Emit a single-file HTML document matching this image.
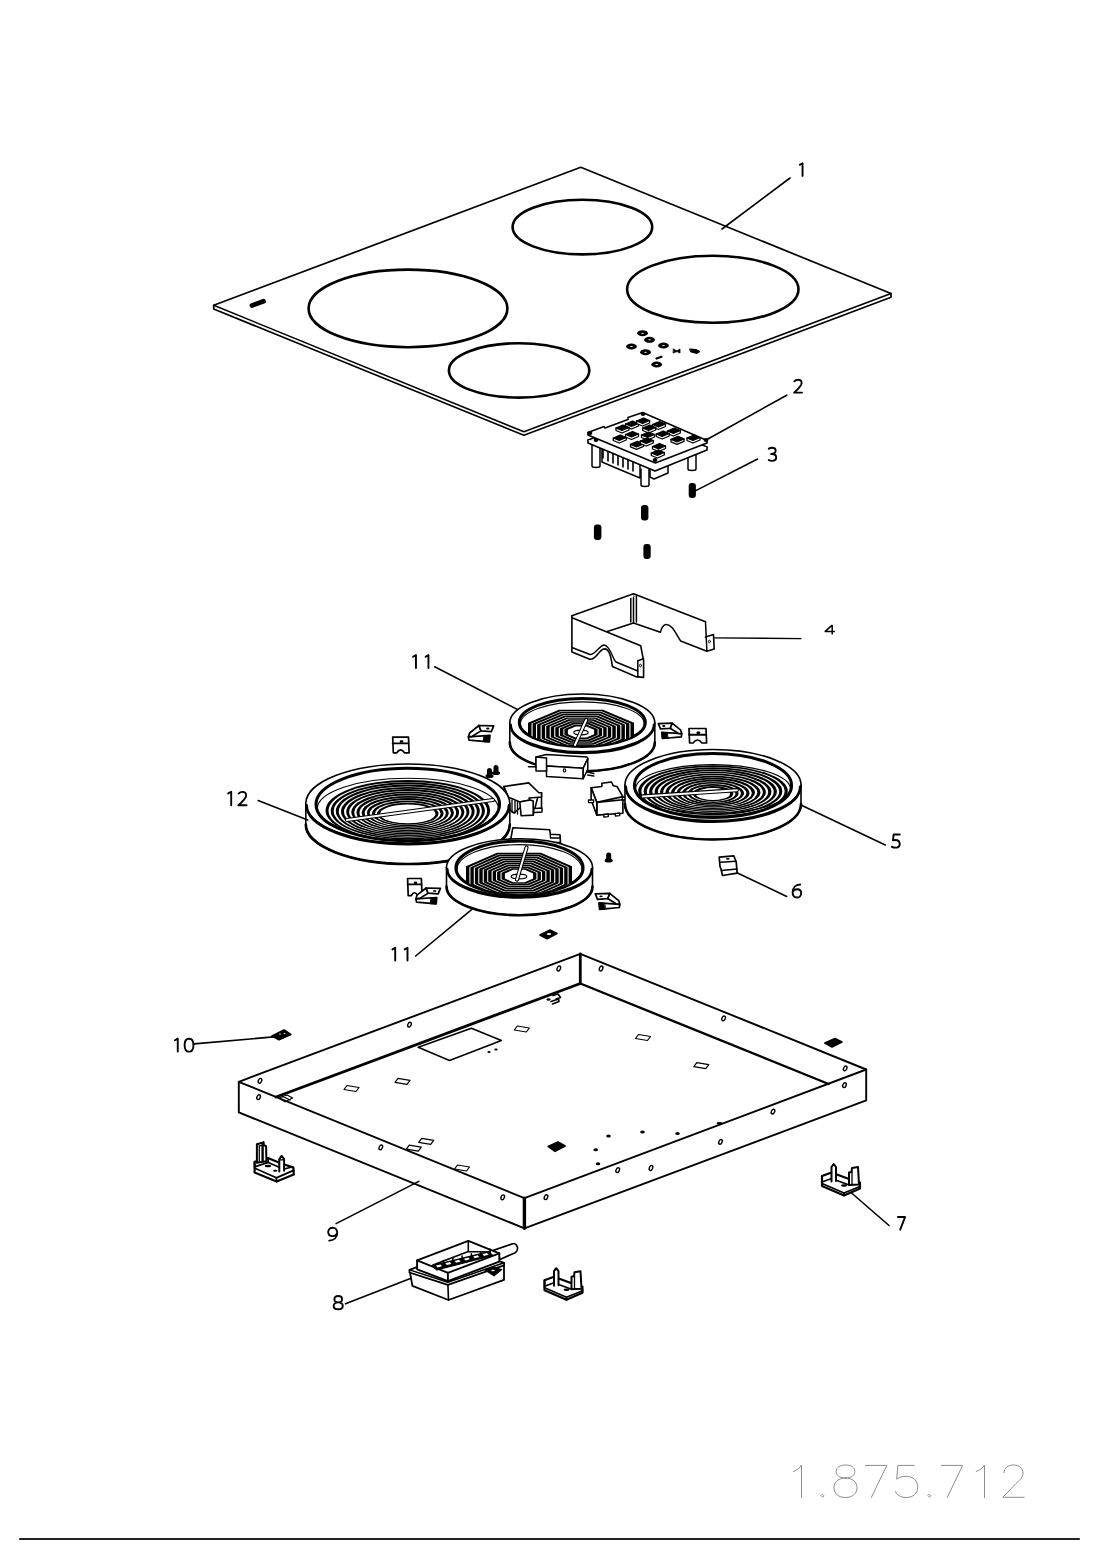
<!DOCTYPE html>
<html><head><meta charset="utf-8"><style>
html,body{margin:0;padding:0;background:#fff;}
svg{display:block;}
text{font-family:"Liberation Sans",sans-serif;}
</style></head><body>
<svg width="1100" height="1556" viewBox="0 0 1100 1556" stroke-linejoin="round" stroke-linecap="round">
<path d="M213.7 305.3 L580.8 167.3 L891 293.5 L891 297.3 L523.9 435.3 L213.7 309 Z" fill="none" stroke="#000" stroke-width="1.7" />
<path d="M213.7 305.3 L523.9 431.8 L891 293.5" fill="none" stroke="#000" stroke-width="1.5" />
<ellipse cx="582.4" cy="227.1" rx="69.8" ry="27.3" fill="none" stroke="#000" stroke-width="2.6" />
<ellipse cx="712.8" cy="289.3" rx="85.7" ry="33.5" fill="none" stroke="#000" stroke-width="2.6" />
<ellipse cx="408" cy="308.4" rx="99.4" ry="38.8" fill="none" stroke="#000" stroke-width="2.6" />
<ellipse cx="519.1" cy="370.4" rx="70.2" ry="27.2" fill="none" stroke="#000" stroke-width="2.6" />
<path d="M252 305.5 L263.5 301.3" fill="none" stroke="#000" stroke-width="4.8" stroke-linecap="round"/>
<ellipse cx="642.5" cy="333.2" rx="5.4" ry="3" fill="#000" stroke="#000" stroke-width="0" />
<ellipse cx="642.5" cy="333.2" rx="1.3" ry="0.5" fill="#fff" stroke="#000" stroke-width="0" />
<ellipse cx="649.5" cy="339.8" rx="5.4" ry="3" fill="#000" stroke="#000" stroke-width="0" />
<ellipse cx="649.5" cy="339.8" rx="1.3" ry="0.5" fill="#fff" stroke="#000" stroke-width="0" />
<ellipse cx="631.5" cy="346.5" rx="5.4" ry="3" fill="#000" stroke="#000" stroke-width="0" />
<ellipse cx="631.5" cy="346.5" rx="1.3" ry="0.5" fill="#fff" stroke="#000" stroke-width="0" />
<ellipse cx="663.5" cy="345.5" rx="5.4" ry="3" fill="#000" stroke="#000" stroke-width="0" />
<ellipse cx="663.5" cy="345.5" rx="1.3" ry="0.5" fill="#fff" stroke="#000" stroke-width="0" />
<ellipse cx="645.5" cy="352.2" rx="5.4" ry="3" fill="#000" stroke="#000" stroke-width="0" />
<ellipse cx="645.5" cy="352.2" rx="1.3" ry="0.5" fill="#fff" stroke="#000" stroke-width="0" />
<ellipse cx="656.7" cy="364.5" rx="5.4" ry="3" fill="#000" stroke="#000" stroke-width="0" />
<ellipse cx="656.7" cy="364.5" rx="1.3" ry="0.5" fill="#fff" stroke="#000" stroke-width="0" />
<line x1="656.5" y1="358.5" x2="661.5" y2="356.8" stroke="#000" stroke-width="2.2"/>
<path d="M673.5 349 L676 350.5 L677.5 350.5 L680 349 L680 353 L677.5 351.8 L676 351.8 L673.5 353 Z" fill="#000" stroke="#000" stroke-width="0.8" />
<path d="M690 349 L696 349.5 L700 351.5 L697 353.5 L691 352 Z" fill="#000" stroke="#000" stroke-width="1" />
<path d="M602 447 L640 462 L640 478 L616 468 L602 462 Z" fill="#fff" stroke="#000" stroke-width="1.5" />
<path d="M603 450 L603 458 M608 452 L608 461 M613 454 L613 463 M618 456 L618 465 M623 458 L623 467 M628 460 L628 469 M633 462 L633 471" fill="none" stroke="#000" stroke-width="1.6" />
<path d="M650 467 L668 461 L668 473 L654 479 L650 477 Z" fill="#fff" stroke="#000" stroke-width="1.5" />
<path d="M592 445 L592 466 A4 1.5 0 0 0 600 466 L600 445" fill="#fff" stroke="#000" stroke-width="1.5" />
<path d="M688 452 L688 469 A4 1.5 0 0 0 696 469 L696 452" fill="#fff" stroke="#000" stroke-width="1.5" />
<path d="M588 440 L643 420 L707 447 L655 468 Z" fill="#fff" stroke="#000" stroke-width="1.6" />
<path d="M588 440 L588 443 L655 471 L707 450 L707 447" fill="#fff" stroke="#000" stroke-width="1.6" />
<path d="M588 432.6 L604 426.6 L605 428 L628 419.5 L628 417.5 L642.6 412.6 L707 440.6 L655.4 460.2 Z" fill="#fff" stroke="#000" stroke-width="1.6" />
<path d="M588 432.6 L588 435 L655.4 463 L707 443 L707 440.6" fill="#fff" stroke="#000" stroke-width="1.6" />
<path d="M625.5 424 L625.5 426.5 L631.5 429 L638.5 426 L638.5 423.5" fill="#fff" stroke="#000" stroke-width="1.3" />
<path d="M625.5 424 L632.5 421 L638.5 423.5 L631.5 426.5 Z" fill="#000" stroke="#000" stroke-width="1.3" />
<path d="M636.6 421 L636.6 423.5 L642.6 426 L649.6 423 L649.6 420.5" fill="#fff" stroke="#000" stroke-width="1.3" />
<path d="M636.6 421 L643.6 418 L649.6 420.5 L642.6 423.5 Z" fill="#000" stroke="#000" stroke-width="1.3" />
<path d="M652.5 424.5 L652.5 427.0 L658.5 429.5 L665.5 426.5 L665.5 424.0" fill="#fff" stroke="#000" stroke-width="1.3" />
<path d="M652.5 424.5 L659.5 421.5 L665.5 424 L658.5 427 Z" fill="#000" stroke="#000" stroke-width="1.3" />
<path d="M616 428 L616 430.5 L622 433 L629 430 L629 427.5" fill="#fff" stroke="#000" stroke-width="1.3" />
<path d="M616 428 L623 425 L629 427.5 L622 430.5 Z" fill="#000" stroke="#000" stroke-width="1.3" />
<path d="M642.7 428 L642.7 430.5 L648.7 433 L655.7 430 L655.7 427.5" fill="#fff" stroke="#000" stroke-width="1.3" />
<path d="M642.7 428 L649.7 425 L655.7 427.5 L648.7 430.5 Z" fill="#000" stroke="#000" stroke-width="1.3" />
<path d="M667.3 431 L667.3 433.5 L673.3 436 L680.3 433 L680.3 430.5" fill="#fff" stroke="#000" stroke-width="1.3" />
<path d="M667.3 431 L674.3 428 L680.3 430.5 L673.3 433.5 Z" fill="#000" stroke="#000" stroke-width="1.3" />
<path d="M613.3 438 L613.3 440.5 L619.3 443 L626.3 440 L626.3 437.5" fill="#fff" stroke="#000" stroke-width="1.3" />
<path d="M613.3 438 L620.3 435 L626.3 437.5 L619.3 440.5 Z" fill="#000" stroke="#000" stroke-width="1.3" />
<path d="M625.5 434.5 L625.5 437.0 L631.5 439.5 L638.5 436.5 L638.5 434.0" fill="#fff" stroke="#000" stroke-width="1.3" />
<path d="M625.5 434.5 L632.5 431.5 L638.5 434 L631.5 437 Z" fill="#000" stroke="#000" stroke-width="1.3" />
<path d="M641.5 435 L641.5 437.5 L647.5 440 L654.5 437 L654.5 434.5" fill="#fff" stroke="#000" stroke-width="1.3" />
<path d="M641.5 435 L648.5 432 L654.5 434.5 L647.5 437.5 Z" fill="#000" stroke="#000" stroke-width="1.3" />
<path d="M656.2 434 L656.2 436.5 L662.2 439 L669.2 436 L669.2 433.5" fill="#fff" stroke="#000" stroke-width="1.3" />
<path d="M656.2 434 L663.2 431 L669.2 433.5 L662.2 436.5 Z" fill="#000" stroke="#000" stroke-width="1.3" />
<path d="M671 439.4 L671 441.9 L677 444.4 L684 441.4 L684 438.9" fill="#fff" stroke="#000" stroke-width="1.3" />
<path d="M671 439.4 L678 436.4 L684 438.9 L677 441.9 Z" fill="#000" stroke="#000" stroke-width="1.3" />
<path d="M630.5 444.3 L630.5 446.8 L636.5 449.3 L643.5 446.3 L643.5 443.8" fill="#fff" stroke="#000" stroke-width="1.3" />
<path d="M630.5 444.3 L637.5 441.3 L643.5 443.8 L636.5 446.8 Z" fill="#000" stroke="#000" stroke-width="1.3" />
<path d="M640.3 441 L640.3 443.5 L646.3 446 L653.3 443 L653.3 440.5" fill="#fff" stroke="#000" stroke-width="1.3" />
<path d="M640.3 441 L647.3 438 L653.3 440.5 L646.3 443.5 Z" fill="#000" stroke="#000" stroke-width="1.3" />
<path d="M652.5 446.5 L652.5 449.0 L658.5 451.5 L665.5 448.5 L665.5 446.0" fill="#fff" stroke="#000" stroke-width="1.3" />
<path d="M652.5 446.5 L659.5 443.5 L665.5 446 L658.5 449 Z" fill="#000" stroke="#000" stroke-width="1.3" />
<path d="M651.3 453 L651.3 455.5 L657.3 458 L664.3 455 L664.3 452.5" fill="#fff" stroke="#000" stroke-width="1.3" />
<path d="M651.3 453 L658.3 450 L664.3 452.5 L657.3 455.5 Z" fill="#000" stroke="#000" stroke-width="1.3" />
<path d="M687 438 L687 440.5 L693 443 L700 440 L700 437.5" fill="#fff" stroke="#000" stroke-width="1.3" />
<path d="M687 438 L694 435 L700 437.5 L693 440.5 Z" fill="#000" stroke="#000" stroke-width="1.3" />
<ellipse cx="590" cy="433" rx="1.8" ry="1.3" fill="#000" stroke="#000" stroke-width="1.2" />
<ellipse cx="643" cy="414" rx="1.8" ry="1.3" fill="#000" stroke="#000" stroke-width="1.2" />
<ellipse cx="706" cy="440" rx="1.8" ry="1.3" fill="#000" stroke="#000" stroke-width="1.2" />
<ellipse cx="655" cy="460" rx="1.8" ry="1.3" fill="#000" stroke="#000" stroke-width="1.2" />
<ellipse cx="596" cy="440" rx="1.8" ry="1.3" fill="#000" stroke="#000" stroke-width="1.2" />
<path d="M641 469 L641 485 A4 1.5 0 0 0 649 485 L649 469" fill="#fff" stroke="#000" stroke-width="1.5" />
<rect x="688.7" y="483" width="7.2" height="15" rx="3" ry="3" fill="#000"/>
<rect x="641" y="505" width="7.4" height="15.5" rx="3" ry="3" fill="#000"/>
<rect x="593.9" y="524.5" width="7.5" height="15.5" rx="3" ry="3" fill="#000"/>
<rect x="643.4" y="544" width="7.3" height="15" rx="3" ry="3" fill="#000"/>
<path d="M633.5 593.7 L705.5 621.7 L706.9 651.2 L680.7 641 C676 634 672 624 666 624.5 C662 625 661 630 660.4 632.3 L633.5 623 Z" fill="#fff" stroke="#000" stroke-width="1.5" />
<path d="M705.5 637 L713.5 634.5 L714.2 649 L706.9 651.2" fill="none" stroke="#000" stroke-width="1.6" />
<ellipse cx="709.5" cy="641.5" rx="1" ry="1.3" fill="none" stroke="#000" stroke-width="1" />
<path d="M630.8 595.2 L630.8 622 M636.4 596 L636.4 622" fill="none" stroke="#000" stroke-width="1.5" />
<path d="M633.5 623 L606.5 631.8" fill="none" stroke="#000" stroke-width="1.6" />
<path d="M571.9 615.8 L633.5 593.7 L633.5 597 L572 618 Z" fill="#fff" stroke="#000" stroke-width="0" />
<path d="M571.9 615.8 L633.5 593.7" fill="none" stroke="#000" stroke-width="1.6" />
<path d="M571.9 615.8 L571.9 647.5 L571.9 652 L589.8 659.2 C596 660 598 651 603.6 649 C609 648 611 656 612.4 666.5 L635.6 676.6 L643.6 677.4 L643.6 660.6 L640.7 645.8 L572 617.7" fill="#fff" stroke="#000" stroke-width="1.6" />
<path d="M571.9 647.5 L590 654.5 C595 655 599 646 604 645 C610 645 613 660 616 662 L637.8 671" fill="none" stroke="#000" stroke-width="1.4" />
<path d="M637.8 660.6 L637.8 677 M637.8 661 L643.6 658.5" fill="none" stroke="#000" stroke-width="1.5" />
<ellipse cx="640.5" cy="665.5" rx="1" ry="1.3" fill="none" stroke="#000" stroke-width="1" />
<path d="M509.8 722.9 L509.8 742.4 A72.5 28.9 0 0 0 654.8 742.4 L654.8 722.9 Z" fill="#fff" stroke="#000" stroke-width="1.6" />
<path d="M509.8 742.4 A72.5 28.9 0 0 0 654.8 742.4" fill="none" stroke="#000" stroke-width="2.6" />
<ellipse cx="582.3" cy="722.9" rx="72.5" ry="28.9" fill="#fff" stroke="#000" stroke-width="1.6" />
<path d="M510.6 724.7 A71.7 28.3 0 0 0 654 724.7" fill="none" stroke="#000" stroke-width="2.6" />
<ellipse cx="582.3" cy="722.4" rx="63" ry="24" fill="none" stroke="#000" stroke-width="3" />
<clipPath id="cl1"><ellipse cx="582.3" cy="723.9" rx="61.8" ry="22"/></clipPath>
<g clip-path="url(#cl1)">
<path d="M634 741.2 L603 754.3 L559 754.3 L528 741.2 L528 722.8 L559 709.7 L603 709.7 L634 722.8 Z" fill="#000" stroke="none" stroke-width="0" />
<path d="M630.5 740.6 L601.5 752.8 L560.5 752.8 L531.5 740.6 L531.5 723.4 L560.5 711.2 L601.5 711.2 L630.5 723.4 Z" fill="#fff" stroke="none" stroke-width="0" />
<path d="M629.4 740.4 L601.1 752.3 L560.9 752.3 L532.6 740.4 L532.6 723.6 L560.9 711.7 L601.1 711.7 L629.4 723.6 Z" fill="#000" stroke="none" stroke-width="0" />
<path d="M626 739.8 L599.6 750.9 L562.4 750.9 L536 739.8 L536 724.2 L562.4 713.1 L599.6 713.1 L626 724.2 Z" fill="#fff" stroke="none" stroke-width="0" />
<path d="M624.9 739.6 L599.2 750.4 L562.8 750.4 L537.1 739.6 L537.1 724.4 L562.8 713.6 L599.2 713.6 L624.9 724.4 Z" fill="#000" stroke="none" stroke-width="0" />
<path d="M621.4 739 L597.7 749 L564.3 749 L540.6 739 L540.6 725 L564.3 715 L597.7 715 L621.4 725 Z" fill="#fff" stroke="none" stroke-width="0" />
<path d="M620.3 738.8 L597.3 748.5 L564.7 748.5 L541.7 738.8 L541.7 725.2 L564.7 715.5 L597.3 715.5 L620.3 725.2 Z" fill="#000" stroke="none" stroke-width="0" />
<path d="M616.9 738.2 L595.9 747.1 L566.1 747.1 L545.1 738.2 L545.1 725.8 L566.1 716.9 L595.9 716.9 L616.9 725.8 Z" fill="#fff" stroke="none" stroke-width="0" />
<path d="M615.8 738.1 L595.4 746.6 L566.6 746.6 L546.2 738.1 L546.2 725.9 L566.6 717.4 L595.4 717.4 L615.8 725.9 Z" fill="#000" stroke="none" stroke-width="0" />
<path d="M612.3 737.4 L594 745.2 L568 745.2 L549.7 737.4 L549.7 726.6 L568 718.8 L594 718.8 L612.3 726.6 Z" fill="#fff" stroke="none" stroke-width="0" />
<path d="M611.2 737.3 L593.5 744.7 L568.5 744.7 L550.8 737.3 L550.8 726.7 L568.5 719.3 L593.5 719.3 L611.2 726.7 Z" fill="#000" stroke="none" stroke-width="0" />
<path d="M607.8 736.7 L592.1 743.2 L569.9 743.2 L554.2 736.7 L554.2 727.3 L569.9 720.8 L592.1 720.8 L607.8 727.3 Z" fill="#fff" stroke="none" stroke-width="0" />
<path d="M606.7 736.5 L591.6 742.8 L570.4 742.8 L555.3 736.5 L555.3 727.5 L570.4 721.2 L591.6 721.2 L606.7 727.5 Z" fill="#000" stroke="none" stroke-width="0" />
<path d="M603.2 735.9 L590.2 741.3 L571.8 741.3 L558.8 735.9 L558.8 728.1 L571.8 722.7 L590.2 722.7 L603.2 728.1 Z" fill="#fff" stroke="none" stroke-width="0" />
<path d="M602.1 735.7 L589.7 740.9 L572.3 740.9 L559.9 735.7 L559.9 728.3 L572.3 723.1 L589.7 723.1 L602.1 728.3 Z" fill="#000" stroke="none" stroke-width="0" />
<path d="M598.6 735.1 L588.3 739.4 L573.7 739.4 L563.4 735.1 L563.4 728.9 L573.7 724.6 L588.3 724.6 L598.6 728.9 Z" fill="#fff" stroke="none" stroke-width="0" />
<path d="M597.6 734.9 L587.9 739 L574.1 739 L564.4 734.9 L564.4 729.1 L574.1 725 L587.9 725 L597.6 729.1 Z" fill="#000" stroke="none" stroke-width="0" />
<path d="M594.1 734.3 L586.4 737.5 L575.6 737.5 L567.9 734.3 L567.9 729.7 L575.6 726.5 L586.4 726.5 L594.1 729.7 Z" fill="#fff" stroke="none" stroke-width="0" />
</g>
<ellipse cx="581" cy="732" rx="12" ry="3.8" fill="#fff" stroke="#000" stroke-width="0" />
<ellipse cx="581" cy="732.5" rx="7.2" ry="2.3" fill="none" stroke="#000" stroke-width="1.2" />
<ellipse cx="582.3" cy="723.9" rx="61.8" ry="22" fill="none" stroke="#000" stroke-width="1.1" />
<line x1="586.2" y1="720" x2="575" y2="745" stroke="#000" stroke-width="4.2"/>
<line x1="586.2" y1="720" x2="575" y2="745" stroke="#fff" stroke-width="2.0"/>
<path d="M536 757 L546.5 754.5 L587 757 L587.8 758.5 L583.2 768.2 L546.5 766 L536 767 Z" fill="#fff" stroke="#000" stroke-width="1.5" />
<path d="M546.5 766 L583.2 768.2 L583.2 778.8 L546.5 776.5 Z" fill="#fff" stroke="#000" stroke-width="1.5" />
<path d="M583.2 768.2 L587.8 758.5 L587.8 769 L583.2 778.8 Z" fill="#fff" stroke="#000" stroke-width="1.5" />
<path d="M536 757 L546.5 758 L546.5 771 L536 771 Z" fill="#fff" stroke="#000" stroke-width="1.5" />
<path d="M528.5 766.8 L536 766.8 M587.75 772 L593.75 773.5 M587.75 775 L593.75 776" fill="none" stroke="#000" stroke-width="1.6" />
<ellipse cx="564.5" cy="770.5" rx="1.2" ry="1.6" fill="none" stroke="#000" stroke-width="1.1" />
<path d="M538.9 792.8 L541.5 792.8 L541.5 811 L534 812 L533.2 815 Z" fill="#fff" stroke="#000" stroke-width="1.6" />
<path d="M534.5 808.5 L542 808 L542 812 L534.5 812.5" fill="#fff" stroke="#000" stroke-width="1.4" />
<path d="M503.9 786.5 L528.7 782.9 L538.9 792.8 L541.5 792.8 L541.5 797 L529 798 L530 800 L519.8 802 L508 797 Z" fill="#fff" stroke="#000" stroke-width="1.6" />
<path d="M519.8 802 L530 800 L533.2 801 L533.2 815.1 L521.1 815.7 Z" fill="#fff" stroke="#000" stroke-width="1.6" />
<path d="M503.9 786.5 L508 797 L510 810 L514 813 L519.8 808" fill="none" stroke="#000" stroke-width="1.6" />
<path d="M512 800 L512 812 M515 801 L515 813 M517.5 801.5 L517.5 814" fill="none" stroke="#000" stroke-width="1.3" />
<path d="M591.1 787.7 L601.9 786.5 L601.9 783.3 L611.5 782 L613.4 785.8 L617 786.5 L622.9 796.6 L596.8 802.4 Z" fill="#fff" stroke="#000" stroke-width="1.6" />
<path d="M596.8 802.4 L622.9 799.8 L622.9 813.2 L596.8 815.1 Z" fill="#fff" stroke="#000" stroke-width="1.6" />
<path d="M591.1 787.7 L596.8 802.4 L596.8 815.1 L591.1 799.8 Z" fill="#fff" stroke="#000" stroke-width="1.6" />
<path d="M622.9 796.6 L622.9 799.8" fill="none" stroke="#000" stroke-width="1.6" />
<path d="M588.5 800 L593.6 800 L593.6 802.6 L588.5 802.6 Z" fill="#fff" stroke="#000" stroke-width="1.3" />
<path d="M622.3 797.3 L626.1 797.3 L626.1 799.8 L622.3 799.8 Z" fill="#fff" stroke="#000" stroke-width="1.3" />
<path d="M603.8 814.5 L608.3 814 L608.3 816.6 L603.8 817 Z" fill="#fff" stroke="#000" stroke-width="1.3" />
<path d="M615.3 813.5 L619.7 813.2 L619.7 815.6 L615.3 816 Z" fill="#fff" stroke="#000" stroke-width="1.3" />
<path d="M512.8 827.8 L549.7 829.7 L550.4 834.2 L560 834.8 L560.5 842.5 L510.3 842 Z" fill="#fff" stroke="#000" stroke-width="1.6" />
<path d="M550.4 834.2 L550.4 838 L560 838" fill="none" stroke="#000" stroke-width="1.3" />
<path d="M305.8 803.5 L305.8 824.5 A102 39.5 0 0 0 509.8 824.5 L509.8 803.5 Z" fill="#fff" stroke="#000" stroke-width="1.6" />
<path d="M305.8 824.5 A102 39.5 0 0 0 509.8 824.5" fill="none" stroke="#000" stroke-width="2.6" />
<ellipse cx="407.8" cy="803.5" rx="102" ry="39.5" fill="#fff" stroke="#000" stroke-width="1.6" />
<path d="M306.6 805.3 A101.2 38.9 0 0 0 509 805.3" fill="none" stroke="#000" stroke-width="2.6" />
<ellipse cx="407.8" cy="804.4" rx="91.8" ry="36.2" fill="none" stroke="#000" stroke-width="3" />
<ellipse cx="407.8" cy="810.5" rx="82.3" ry="30.5" fill="#000" stroke="none" stroke-width="0" />
<ellipse cx="407.8" cy="810.8" rx="79.3" ry="28.9" fill="#fff" stroke="none" stroke-width="0" />
<ellipse cx="407.8" cy="810.8" rx="77.1" ry="28.5" fill="#000" stroke="none" stroke-width="0" />
<ellipse cx="407.8" cy="811.1" rx="74.1" ry="26.9" fill="#fff" stroke="none" stroke-width="0" />
<ellipse cx="407.8" cy="811.1" rx="72" ry="26.6" fill="#000" stroke="none" stroke-width="0" />
<ellipse cx="407.8" cy="811.4" rx="69" ry="25" fill="#fff" stroke="none" stroke-width="0" />
<ellipse cx="407.8" cy="811.5" rx="66.8" ry="24.6" fill="#000" stroke="none" stroke-width="0" />
<ellipse cx="407.8" cy="811.7" rx="63.8" ry="23" fill="#fff" stroke="none" stroke-width="0" />
<ellipse cx="407.8" cy="811.8" rx="61.6" ry="22.7" fill="#000" stroke="none" stroke-width="0" />
<ellipse cx="407.8" cy="812" rx="58.7" ry="21.1" fill="#fff" stroke="none" stroke-width="0" />
<ellipse cx="407.8" cy="812.1" rx="56.5" ry="20.7" fill="#000" stroke="none" stroke-width="0" />
<ellipse cx="407.8" cy="812.4" rx="53.5" ry="19.1" fill="#fff" stroke="none" stroke-width="0" />
<ellipse cx="407.8" cy="812.4" rx="51.3" ry="18.8" fill="#000" stroke="none" stroke-width="0" />
<ellipse cx="407.8" cy="812.7" rx="48.3" ry="17.2" fill="#fff" stroke="none" stroke-width="0" />
<ellipse cx="407.8" cy="812.7" rx="46.2" ry="16.8" fill="#000" stroke="none" stroke-width="0" />
<ellipse cx="407.8" cy="813" rx="43.2" ry="15.2" fill="#fff" stroke="none" stroke-width="0" />
<ellipse cx="407.8" cy="813" rx="41" ry="14.9" fill="#000" stroke="none" stroke-width="0" />
<ellipse cx="407.8" cy="813.3" rx="38" ry="13.3" fill="#fff" stroke="none" stroke-width="0" />
<ellipse cx="407.8" cy="813.4" rx="35.8" ry="12.9" fill="#000" stroke="none" stroke-width="0" />
<ellipse cx="407.8" cy="813.6" rx="32.8" ry="11.3" fill="#fff" stroke="none" stroke-width="0" />
<ellipse cx="407.8" cy="813.7" rx="30.7" ry="11" fill="#000" stroke="none" stroke-width="0" />
<ellipse cx="407.8" cy="813.9" rx="27.7" ry="9.4" fill="#fff" stroke="none" stroke-width="0" />
<ellipse cx="407.8" cy="814" rx="25.5" ry="9" fill="#fff" stroke="#000" stroke-width="0" />
<ellipse cx="407.8" cy="809" rx="90.6" ry="30.7" fill="none" stroke="#000" stroke-width="1.1" />
<line x1="347" y1="820" x2="493" y2="800" stroke="#000" stroke-width="4.2"/>
<line x1="347" y1="820" x2="493" y2="800" stroke="#fff" stroke-width="2.0"/>
<path d="M625 785 L625 804 A88 35.5 0 0 0 801 804 L801 785 Z" fill="#fff" stroke="#000" stroke-width="1.6" />
<path d="M625 804 A88 35.5 0 0 0 801 804" fill="none" stroke="#000" stroke-width="2.6" />
<ellipse cx="713" cy="785" rx="88" ry="35.5" fill="#fff" stroke="#000" stroke-width="1.6" />
<path d="M625.8 786.8 A87.2 34.9 0 0 0 800.2 786.8" fill="none" stroke="#000" stroke-width="2.6" />
<ellipse cx="713" cy="785.5" rx="78.6" ry="32" fill="none" stroke="#000" stroke-width="3" />
<ellipse cx="713" cy="791" rx="74.8" ry="25.8" fill="#000" stroke="none" stroke-width="0" />
<ellipse cx="713" cy="791.2" rx="71.6" ry="24.3" fill="#fff" stroke="none" stroke-width="0" />
<ellipse cx="713" cy="791.3" rx="69.3" ry="24" fill="#000" stroke="none" stroke-width="0" />
<ellipse cx="713" cy="791.5" rx="66.2" ry="22.5" fill="#fff" stroke="none" stroke-width="0" />
<ellipse cx="713" cy="791.5" rx="63.9" ry="22.2" fill="#000" stroke="none" stroke-width="0" />
<ellipse cx="713" cy="791.8" rx="60.7" ry="20.7" fill="#fff" stroke="none" stroke-width="0" />
<ellipse cx="713" cy="791.8" rx="58.4" ry="20.3" fill="#000" stroke="none" stroke-width="0" />
<ellipse cx="713" cy="792" rx="55.2" ry="18.9" fill="#fff" stroke="none" stroke-width="0" />
<ellipse cx="713" cy="792.1" rx="52.9" ry="18.5" fill="#000" stroke="none" stroke-width="0" />
<ellipse cx="713" cy="792.3" rx="49.8" ry="17" fill="#fff" stroke="none" stroke-width="0" />
<ellipse cx="713" cy="792.4" rx="47.5" ry="16.7" fill="#000" stroke="none" stroke-width="0" />
<ellipse cx="713" cy="792.6" rx="44.3" ry="15.2" fill="#fff" stroke="none" stroke-width="0" />
<ellipse cx="713" cy="792.6" rx="42" ry="14.9" fill="#000" stroke="none" stroke-width="0" />
<ellipse cx="713" cy="792.9" rx="38.8" ry="13.4" fill="#fff" stroke="none" stroke-width="0" />
<ellipse cx="713" cy="792.9" rx="36.6" ry="13.1" fill="#000" stroke="none" stroke-width="0" />
<ellipse cx="713" cy="793.1" rx="33.4" ry="11.6" fill="#fff" stroke="none" stroke-width="0" />
<ellipse cx="713" cy="793.2" rx="31.1" ry="11.3" fill="#000" stroke="none" stroke-width="0" />
<ellipse cx="713" cy="793.4" rx="27.9" ry="9.8" fill="#fff" stroke="none" stroke-width="0" />
<ellipse cx="713" cy="793.5" rx="25.6" ry="9.4" fill="#000" stroke="none" stroke-width="0" />
<ellipse cx="713" cy="793.7" rx="22.5" ry="7.9" fill="#fff" stroke="none" stroke-width="0" />
<ellipse cx="713" cy="793.7" rx="20.2" ry="7.6" fill="#000" stroke="none" stroke-width="0" />
<ellipse cx="713" cy="794" rx="17" ry="6.1" fill="#fff" stroke="none" stroke-width="0" />
<ellipse cx="713" cy="794" rx="14.7" ry="5.8" fill="#fff" stroke="#000" stroke-width="0" />
<ellipse cx="713" cy="789" rx="77.4" ry="24.4" fill="none" stroke="#000" stroke-width="1.1" />
<line x1="642.7" y1="796.4" x2="736.8" y2="790.2" stroke="#000" stroke-width="4.2"/>
<line x1="642.7" y1="796.4" x2="736.8" y2="790.2" stroke="#fff" stroke-width="2.0"/>
<path d="M446.5 867.5 L446.5 886.5 A73 28.7 0 0 0 592.5 886.5 L592.5 867.5 Z" fill="#fff" stroke="#000" stroke-width="1.6" />
<path d="M446.5 886.5 A73 28.7 0 0 0 592.5 886.5" fill="none" stroke="#000" stroke-width="2.6" />
<ellipse cx="519.5" cy="867.5" rx="73" ry="28.7" fill="#fff" stroke="#000" stroke-width="1.6" />
<path d="M447.3 869.3 A72.2 28.1 0 0 0 591.7 869.3" fill="none" stroke="#000" stroke-width="2.6" />
<ellipse cx="519.5" cy="867.9" rx="63.6" ry="26.8" fill="none" stroke="#000" stroke-width="3" />
<clipPath id="cl2"><ellipse cx="519.5" cy="869.4" rx="62.4" ry="24.8"/></clipPath>
<g clip-path="url(#cl2)">
<path d="M572 885.7 L541 899.3 L497 899.3 L466 885.7 L466 866.3 L497 852.7 L541 852.7 L572 866.3 Z" fill="#000" stroke="none" stroke-width="0" />
<path d="M568.6 885 L539.6 897.8 L498.4 897.8 L469.4 885 L469.4 867 L498.4 854.2 L539.6 854.2 L568.6 867 Z" fill="#fff" stroke="none" stroke-width="0" />
<path d="M567.6 884.8 L539.1 897.4 L498.9 897.4 L470.4 884.8 L470.4 867.2 L498.9 854.6 L539.1 854.6 L567.6 867.2 Z" fill="#000" stroke="none" stroke-width="0" />
<path d="M564.2 884.2 L537.7 895.9 L500.3 895.9 L473.8 884.2 L473.8 867.8 L500.3 856.1 L537.7 856.1 L564.2 867.8 Z" fill="#fff" stroke="none" stroke-width="0" />
<path d="M563.1 884 L537.3 895.4 L500.7 895.4 L474.9 884 L474.9 868 L500.7 856.6 L537.3 856.6 L563.1 868 Z" fill="#000" stroke="none" stroke-width="0" />
<path d="M559.7 883.4 L535.9 893.9 L502.1 893.9 L478.3 883.4 L478.3 868.6 L502.1 858.1 L535.9 858.1 L559.7 868.6 Z" fill="#fff" stroke="none" stroke-width="0" />
<path d="M558.7 883.2 L535.4 893.5 L502.6 893.5 L479.3 883.2 L479.3 868.8 L502.6 858.5 L535.4 858.5 L558.7 868.8 Z" fill="#000" stroke="none" stroke-width="0" />
<path d="M555.3 882.6 L534 892 L504 892 L482.7 882.6 L482.7 869.4 L504 860 L534 860 L555.3 869.4 Z" fill="#fff" stroke="none" stroke-width="0" />
<path d="M554.2 882.4 L533.6 891.5 L504.4 891.5 L483.8 882.4 L483.8 869.6 L504.4 860.5 L533.6 860.5 L554.2 869.6 Z" fill="#000" stroke="none" stroke-width="0" />
<path d="M550.8 881.8 L532.2 890 L505.8 890 L487.2 881.8 L487.2 870.2 L505.8 862 L532.2 862 L550.8 870.2 Z" fill="#fff" stroke="none" stroke-width="0" />
<path d="M549.8 881.6 L531.7 889.5 L506.3 889.5 L488.2 881.6 L488.2 870.4 L506.3 862.5 L531.7 862.5 L549.8 870.4 Z" fill="#000" stroke="none" stroke-width="0" />
<path d="M546.4 881 L530.3 888.1 L507.7 888.1 L491.6 881 L491.6 871 L507.7 863.9 L530.3 863.9 L546.4 871 Z" fill="#fff" stroke="none" stroke-width="0" />
<path d="M545.3 880.8 L529.9 887.6 L508.1 887.6 L492.7 880.8 L492.7 871.2 L508.1 864.4 L529.9 864.4 L545.3 871.2 Z" fill="#000" stroke="none" stroke-width="0" />
<path d="M542 880.2 L528.5 886.1 L509.5 886.1 L496 880.2 L496 871.8 L509.5 865.9 L528.5 865.9 L542 871.8 Z" fill="#fff" stroke="none" stroke-width="0" />
<path d="M540.9 880 L528.1 885.6 L509.9 885.6 L497.1 880 L497.1 872 L509.9 866.4 L528.1 866.4 L540.9 872 Z" fill="#000" stroke="none" stroke-width="0" />
<path d="M537.5 879.4 L526.7 884.1 L511.3 884.1 L500.5 879.4 L500.5 872.6 L511.3 867.9 L526.7 867.9 L537.5 872.6 Z" fill="#fff" stroke="none" stroke-width="0" />
<path d="M536.4 879.2 L526.2 883.7 L511.8 883.7 L501.6 879.2 L501.6 872.8 L511.8 868.3 L526.2 868.3 L536.4 872.8 Z" fill="#000" stroke="none" stroke-width="0" />
<path d="M533.1 878.6 L524.8 882.2 L513.2 882.2 L504.9 878.6 L504.9 873.4 L513.2 869.8 L524.8 869.8 L533.1 873.4 Z" fill="#fff" stroke="none" stroke-width="0" />
</g>
<ellipse cx="519" cy="876" rx="13" ry="4" fill="#fff" stroke="#000" stroke-width="0" />
<ellipse cx="519" cy="876.5" rx="7.8" ry="2.4" fill="none" stroke="#000" stroke-width="1.2" />
<ellipse cx="519.5" cy="869.4" rx="62.4" ry="24.8" fill="none" stroke="#000" stroke-width="1.1" />
<line x1="526.5" y1="847.5" x2="517" y2="879.5" stroke="#000" stroke-width="4.2"/>
<line x1="526.5" y1="847.5" x2="517" y2="879.5" stroke="#fff" stroke-width="2.0"/>
<path d="M392.7 737.2 L408.5 737.2 L409.1 752.8 L404.5 752.8 Q400.6 746.8 396.7 752.8 L393.3 752.8 Z" fill="#fff" stroke="#000" stroke-width="1.7" />
<path d="M392.7 743.4 L408.5 743.4" fill="none" stroke="#000" stroke-width="1.9" />
<rect x="399.8" y="740.2" width="3.5" height="2.6" rx="0.8" fill="#000"/>
<path d="M468.4 736.8 L489.9 735.3 L489.3 741.9 L469 740.1 Z" fill="#fff" stroke="#000" stroke-width="1.7" />
<path d="M484.3 735.7 L489.9 735.3 L489.3 741.9 L483.6 741.7 Z" fill="#000" stroke="#000" stroke-width="1" />
<path d="M478.9 725.5 L481 730.9 L472.3 736.3 L468.4 736.8 L469.6 733 Z" fill="#fff" stroke="#000" stroke-width="1.7" />
<path d="M478.9 725.5 L493.7 725.9 L491.3 731.6 L481 730.9 Z" fill="#fff" stroke="#000" stroke-width="1.7" />
<ellipse cx="487.8" cy="728.5" rx="1.7" ry="0.9" fill="#000" stroke="#000" stroke-width="0" />
<path d="M681.8 733.7 L661.8 732.3 L662.4 738.5 L681.3 736.8 Z" fill="#fff" stroke="#000" stroke-width="1.7" />
<path d="M667 732.7 L661.8 732.3 L662.4 738.5 L667.7 738.3 Z" fill="#000" stroke="#000" stroke-width="1" />
<path d="M672.1 723.2 L670.1 728.3 L678.2 733.3 L681.8 733.7 L680.7 730.2 Z" fill="#fff" stroke="#000" stroke-width="1.7" />
<path d="M672.1 723.2 L658.3 723.6 L660.5 728.9 L670.1 728.3 Z" fill="#fff" stroke="#000" stroke-width="1.7" />
<ellipse cx="663.8" cy="726" rx="1.7" ry="0.9" fill="#000" stroke="#000" stroke-width="0" />
<path d="M689 728.5 L706 728.5 L706.6 743 L702 743 Q697.5 737 693 743 L689.6 743 Z" fill="#fff" stroke="#000" stroke-width="1.7" />
<path d="M689 734.7 L706 734.7" fill="none" stroke="#000" stroke-width="1.9" />
<rect x="696.6" y="731.5" width="3.5" height="2.6" rx="0.8" fill="#000"/>
<path d="M719.2 857.2 L733.8 855.8 L736.2 862 L737.2 873.2 L722.5 875.5 L721 869 L720 866.5 Z" fill="#fff" stroke="#000" stroke-width="1.7" />
<path d="M720.5 862.2 L736 861.2 M721.5 870.5 L737 869" fill="none" stroke="#000" stroke-width="1.6" />
<ellipse cx="727.8" cy="858.8" rx="2" ry="0.9" fill="#000" stroke="#000" stroke-width="0" />
<path d="M407.6 878.5 L421.4 878.5 L422 895.6 L417.6 895.6 Q414.5 889.9 411.4 895.6 L408.2 895.6 Z" fill="#fff" stroke="#000" stroke-width="1.7" />
<path d="M407.6 884.4 L421.4 884.4" fill="none" stroke="#000" stroke-width="1.9" />
<rect x="413.8" y="881.4" width="3.3" height="2.5" rx="0.8" fill="#000"/>
<path d="M415.9 898.9 L436.7 897.5 L436.2 903.9 L416.5 902.1 Z" fill="#fff" stroke="#000" stroke-width="1.7" />
<path d="M431.3 897.9 L436.7 897.5 L436.2 903.9 L430.6 903.7 Z" fill="#000" stroke="#000" stroke-width="1" />
<path d="M426.1 888 L428.1 893.2 L419.7 898.4 L415.9 898.9 L417 895.2 Z" fill="#fff" stroke="#000" stroke-width="1.7" />
<path d="M426.1 888 L440.4 888.4 L438.1 893.9 L428.1 893.2 Z" fill="#fff" stroke="#000" stroke-width="1.7" />
<ellipse cx="434.7" cy="890.9" rx="1.7" ry="0.9" fill="#000" stroke="#000" stroke-width="0" />
<path d="M619.8 904.3 L599 902.9 L599.6 909.3 L619.3 907.5 Z" fill="#fff" stroke="#000" stroke-width="1.7" />
<path d="M604.4 903.3 L599 902.9 L599.6 909.3 L605.1 909.1 Z" fill="#000" stroke="#000" stroke-width="1" />
<path d="M609.7 893.4 L607.6 898.6 L616.1 903.8 L619.8 904.3 L618.7 900.6 Z" fill="#fff" stroke="#000" stroke-width="1.7" />
<path d="M609.7 893.4 L595.3 893.8 L597.6 899.3 L607.6 898.6 Z" fill="#fff" stroke="#000" stroke-width="1.7" />
<ellipse cx="601" cy="896.3" rx="1.7" ry="0.9" fill="#000" stroke="#000" stroke-width="0" />
<path d="M487.7 775.5 L487.7 770.5 A1.8 1.8 0 0 1 491.3 770.5 L491.3 775.5" fill="#000" stroke="#000" stroke-width="1.4" />
<ellipse cx="489.5" cy="776" rx="3.5" ry="1.5" fill="#000" stroke="#000" stroke-width="1.2" />
<path d="M494.2 772.5 L494.2 767.5 A1.8 1.8 0 0 1 497.8 767.5 L497.8 772.5" fill="#000" stroke="#000" stroke-width="1.4" />
<ellipse cx="496" cy="773" rx="3.5" ry="1.5" fill="#000" stroke="#000" stroke-width="1.2" />
<path d="M606.9 860 L606.9 855 A1.8 1.8 0 0 1 610.5 855 L610.5 860" fill="#000" stroke="#000" stroke-width="1.4" />
<ellipse cx="608.7" cy="860.5" rx="3.5" ry="1.5" fill="#000" stroke="#000" stroke-width="1.2" />
<path d="M540 935 L550 930 L557 933.5 L547 938.8 Z" fill="#000" stroke="#000" stroke-width="1.6" />
<ellipse cx="549" cy="934" rx="2.2" ry="1" fill="#fff" stroke="#000" stroke-width="0" />
<path d="M254.6 1161.8 L268 1158 L279.3 1162.8 L293.4 1167.6 L293.8 1174.6 L276.6 1181.5 L254.6 1172.6 Z" fill="#fff" stroke="#000" stroke-width="2.2" />
<path d="M254.6 1161.8 L254.6 1166.8 L268.3 1162.4 L268 1158" fill="none" stroke="#000" stroke-width="1.8" />
<path d="M254.9 1168.3 L276.3 1177.8 L293.6 1170.3" fill="none" stroke="#000" stroke-width="1.8" />
<path d="M276.3 1177.8 L276.6 1181.5" fill="none" stroke="#000" stroke-width="1.8" />
<path d="M268.3 1162.4 L280.3 1167.8" fill="none" stroke="#000" stroke-width="1.6" />
<path d="M283.3 1169.3 L292.8 1166.8" fill="none" stroke="#000" stroke-width="1.6" />
<ellipse cx="268" cy="1166" rx="3.2" ry="1.3" fill="#000" stroke="#000" stroke-width="0" />
<ellipse cx="275.3" cy="1170.8" rx="2.2" ry="1" fill="#000" stroke="#000" stroke-width="0" />
<path d="M256.9 1162.8 L256.9 1144.3 L262.3 1142.7 L263.6 1142.1 L263.9 1145.3 L266.1 1146.2 L266.4 1161.3 Z" fill="#fff" stroke="#000" stroke-width="2" />
<path d="M259.3 1145.8 L259.3 1161.8" fill="none" stroke="#000" stroke-width="1.3" />
<path d="M262.6 1144.8 L262.6 1160.8" fill="none" stroke="#000" stroke-width="2.4" />
<path d="M259.3 1145.8 L263.9 1145.3" fill="none" stroke="#000" stroke-width="1.3" />
<path d="M279.3 1171.4 L279.3 1159.1 L281.6 1155.9 L284.1 1159.1 L284.1 1170.8" fill="#fff" stroke="#000" stroke-width="2" />
<path d="M279.8 1159.8 L283.6 1159.8" fill="none" stroke="#000" stroke-width="1.2" />
<path d="M822 1176 L831.5 1172.5 L849 1179 L860 1182.5 L860 1188.5 L844 1195.5 L822 1186 Z" fill="#fff" stroke="#000" stroke-width="2.2" />
<path d="M822 1176 L822 1182 L831.5 1178.5 L849 1185" fill="none" stroke="#000" stroke-width="1.7" />
<path d="M822 1183.5 L844 1193 L860 1186.5" fill="none" stroke="#000" stroke-width="1.7" />
<path d="M844 1193 L844 1195.5" fill="none" stroke="#000" stroke-width="1.7" />
<ellipse cx="844" cy="1185.5" rx="3" ry="1.2" fill="#000" stroke="#000" stroke-width="0" />
<path d="M831.5 1181.5 L831.5 1167 L833.7 1164 L836 1167 L836 1181" fill="#fff" stroke="#000" stroke-width="2" />
<path d="M849 1185 L849 1172.5 L851.5 1172 L852 1168 L858 1167 L859 1184.5 Z" fill="#fff" stroke="#000" stroke-width="2" />
<path d="M852 1172 L852 1184.5" fill="none" stroke="#000" stroke-width="1.3" />
<path d="M544.5 1280.2 L554 1276.7 L571.5 1283.2 L582.5 1286.7 L582.5 1292.7 L566.5 1299.7 L544.5 1290.2 Z" fill="#fff" stroke="#000" stroke-width="2.2" />
<path d="M544.5 1280.2 L544.5 1286.2 L554 1282.7 L571.5 1289.2" fill="none" stroke="#000" stroke-width="1.7" />
<path d="M544.5 1287.7 L566.5 1297.2 L582.5 1290.7" fill="none" stroke="#000" stroke-width="1.7" />
<path d="M566.5 1297.2 L566.5 1299.7" fill="none" stroke="#000" stroke-width="1.7" />
<ellipse cx="566.5" cy="1289.7" rx="3" ry="1.2" fill="#000" stroke="#000" stroke-width="0" />
<path d="M554 1285.7 L554 1271.2 L556.2 1268.2 L558.5 1271.2 L558.5 1285.2" fill="#fff" stroke="#000" stroke-width="2" />
<path d="M571.5 1289.2 L571.5 1276.7 L574 1276.2 L574.5 1272.2 L580.5 1271.2 L581.5 1288.7 Z" fill="#fff" stroke="#000" stroke-width="2" />
<path d="M574.5 1276.2 L574.5 1288.7" fill="none" stroke="#000" stroke-width="1.3" />
<path d="M493.4 1250.4 L512.3 1243.9 A3.6 4.6 0 0 1 515.2 1252.7 L500.5 1259.2 Z" fill="#fff" stroke="#000" stroke-width="1.7" />
<path d="M410 1272.5 L412.4 1285.8 L448.5 1300 L504 1279.9 L504 1264 L447.9 1284.5 Z" fill="#fff" stroke="#000" stroke-width="1.8" />
<path d="M447.9 1284.5 L448.5 1300" fill="none" stroke="#000" stroke-width="1.6" />
<path d="M409.5 1269.9 L466 1249 L504 1262.8 L504 1265.3 L447.9 1284.8 L409.5 1272.5 Z" fill="#fff" stroke="#000" stroke-width="1.8" />
<path d="M409.5 1269.9 L447.9 1282.3 L504 1262.8" fill="none" stroke="#000" stroke-width="1.5" />
<path d="M417.1 1260.4 L468.3 1240.9 L499.3 1253.3 L499.3 1261.6 L447.9 1281.1 L417.1 1269.3 Z" fill="#fff" stroke="#000" stroke-width="1.9" />
<path d="M417.1 1260.4 L447.9 1272.8 L499.3 1253.3 M447.9 1272.8 L447.9 1281.1" fill="none" stroke="#000" stroke-width="1.9" />
<path d="M468.3 1240.9 L468.3 1251.5 L433 1265 M468.3 1251.5 L490 1252" fill="none" stroke="#000" stroke-width="1.6" />
<path d="M432 1265.5 L489 1251.5 L493 1255.5 L437 1270 Z" fill="#000" stroke="#000" stroke-width="1.0" />
<path d="M436 1265.6 L440.5 1264.4 L442 1266.2 L437.5 1267.4 Z" fill="#fff" stroke="none" stroke-width="0" />
<path d="M443.5 1260.6 L443.5 1267.1" fill="none" stroke="#000" stroke-width="1.5" />
<path d="M445.3 1263.3 L449.8 1262.1 L451.3 1263.9 L446.8 1265.1 Z" fill="#fff" stroke="none" stroke-width="0" />
<path d="M452.8 1258.3 L452.8 1264.8" fill="none" stroke="#000" stroke-width="1.5" />
<path d="M454.6 1261 L459.1 1259.8 L460.6 1261.6 L456.1 1262.8 Z" fill="#fff" stroke="none" stroke-width="0" />
<path d="M462.1 1256 L462.1 1262.5" fill="none" stroke="#000" stroke-width="1.5" />
<path d="M463.9 1258.7 L468.4 1257.5 L469.9 1259.3 L465.4 1260.5 Z" fill="#fff" stroke="none" stroke-width="0" />
<path d="M471.4 1253.7 L471.4 1260.2" fill="none" stroke="#000" stroke-width="1.5" />
<path d="M473.2 1256.4 L477.7 1255.2 L479.2 1257 L474.7 1258.2 Z" fill="#fff" stroke="none" stroke-width="0" />
<path d="M480.7 1251.4 L480.7 1257.9" fill="none" stroke="#000" stroke-width="1.5" />
<path d="M482.5 1254.1 L487 1252.9 L488.5 1254.7 L484 1255.9 Z" fill="#fff" stroke="none" stroke-width="0" />
<path d="M490 1249.1 L490 1255.6" fill="none" stroke="#000" stroke-width="1.5" />
<path d="M485 1270 L493 1267 L501.7 1269.5 L494 1275.8 Z" fill="#000" stroke="#000" stroke-width="1.2" />
<ellipse cx="493" cy="1270.5" rx="1.8" ry="0.8" fill="#fff" stroke="#000" stroke-width="0" />
<path d="M272 1036 L284 1030 L290.8 1034.5 L279 1039.7 Z" fill="#000" stroke="#000" stroke-width="1.8" />
<ellipse cx="280" cy="1034" rx="1" ry="0.6" fill="#fff" stroke="#000" stroke-width="0" />
<ellipse cx="284.5" cy="1033.5" rx="1" ry="0.6" fill="#fff" stroke="#000" stroke-width="0" />
<line x1="790" y1="178" x2="722" y2="229" stroke="#000" stroke-width="1.6"/>
<path transform="translate(798.9 162.5) scale(0.986)" d="M0.9 2.4 L3.7 0.8 L3.7 13.6" fill="none" stroke="#000" stroke-width="1.93"/>
<line x1="786.7" y1="395.2" x2="706.1" y2="440" stroke="#000" stroke-width="1.6"/>
<path transform="translate(793 378.8) scale(1.014)" d="M1.3 2.5 C2.3 1.4 3.5 0.9 5 0.9 C7.3 0.9 8.5 2.3 8.5 4.3 C8.5 6.6 6.6 8.7 1.1 13.6 L8.9 13.6" fill="none" stroke="#000" stroke-width="1.87"/>
<line x1="757.6" y1="459" x2="695.3" y2="490.9" stroke="#000" stroke-width="1.6"/>
<path transform="translate(767.8 446.8) scale(1.034)" d="M1.0 1.8 C1.9 1.2 3 0.9 4.3 0.9 C6.4 0.9 7.6 2.1 7.6 3.9 C7.6 5.8 6 6.9 3.2 6.9 L4.0 6.9 C6.6 6.9 8.1 8.2 8.1 10.3 C8.1 12.4 6.5 13.6 4.1 13.6 C2.7 13.6 1.6 13.3 0.9 12.8" fill="none" stroke="#000" stroke-width="1.84"/>
<line x1="713.6" y1="637.8" x2="801" y2="638.6" stroke="#000" stroke-width="1.3"/>
<path transform="translate(824.3 624.5) scale(1.000)" d="M7.6 0.9 L0.9 6.9 L10.0 6.9 M7.9 0.9 L7.9 9.6" fill="none" stroke="#000" stroke-width="1.45"/>
<line x1="434.7" y1="666.8" x2="517.3" y2="709.4" stroke="#000" stroke-width="1.6"/>
<path transform="translate(412.2 654.3) scale(1.014)" d="M0.9 2.4 L3.7 0.8 L3.7 13.6" fill="none" stroke="#000" stroke-width="1.87"/>
<path transform="translate(424.7 654.3) scale(1.014)" d="M0.9 2.4 L3.7 0.8 L3.7 13.6" fill="none" stroke="#000" stroke-width="1.87"/>
<line x1="258.2" y1="800.5" x2="307.7" y2="820" stroke="#000" stroke-width="1.6"/>
<path transform="translate(227.3 790.9) scale(1.055)" d="M0.9 2.4 L3.7 0.8 L3.7 13.6" fill="none" stroke="#000" stroke-width="1.80"/>
<path transform="translate(237.2 790.9) scale(1.055)" d="M1.3 2.5 C2.3 1.4 3.5 0.9 5 0.9 C7.3 0.9 8.5 2.3 8.5 4.3 C8.5 6.6 6.6 8.7 1.1 13.6 L8.9 13.6" fill="none" stroke="#000" stroke-width="1.80"/>
<line x1="802.5" y1="805.7" x2="885.3" y2="845" stroke="#000" stroke-width="1.6"/>
<path transform="translate(891 833.5) scale(1.041)" d="M8.4 1.0 L2.5 1.0 L1.9 6.6 C2.6 6.4 3.3 6.3 4.0 6.3 C6.6 6.3 8.4 7.8 8.4 10 C8.4 12.3 6.6 13.6 4.1 13.6 C2.8 13.6 1.7 13.3 0.9 12.8" fill="none" stroke="#000" stroke-width="1.82"/>
<line x1="737" y1="872.7" x2="786.7" y2="896.5" stroke="#000" stroke-width="1.6"/>
<path transform="translate(791.4 883.6) scale(1.021)" d="M8.6 0.9 C4.2 1.1 1.2 4.2 1.2 8.5 C1.2 11.8 2.9 13.6 5.3 13.6 C7.8 13.6 9.6 11.8 9.6 9.4 C9.6 7 8 5.5 5.6 5.5 C3.6 5.5 2 6.5 1.3 8" fill="none" stroke="#000" stroke-width="1.86"/>
<line x1="415.6" y1="956" x2="471.6" y2="909.6" stroke="#000" stroke-width="1.6"/>
<path transform="translate(391.5 947) scale(1.000)" d="M0.9 2.4 L3.7 0.8 L3.7 13.6" fill="none" stroke="#000" stroke-width="1.90"/>
<path transform="translate(403.8 947) scale(1.000)" d="M0.9 2.4 L3.7 0.8 L3.7 13.6" fill="none" stroke="#000" stroke-width="1.90"/>
<line x1="194.1" y1="1043.9" x2="273.3" y2="1036.9" stroke="#000" stroke-width="1.6"/>
<path transform="translate(174 1037.8) scale(1.014)" d="M0.9 2.4 L3.7 0.8 L3.7 13.6" fill="none" stroke="#000" stroke-width="1.87"/>
<path transform="translate(183.7 1037.8) scale(1.014)" d="M5.25 0.9 C2.6 0.9 0.9 3.4 0.9 7.25 C0.9 11.1 2.6 13.6 5.25 13.6 C7.9 13.6 9.6 11.1 9.6 7.25 C9.6 3.4 7.9 0.9 5.25 0.9 Z" fill="none" stroke="#000" stroke-width="1.87"/>
<line x1="336.1" y1="1223.6" x2="418.8" y2="1181.4" stroke="#000" stroke-width="1.6"/>
<path transform="translate(327.2 1226.8) scale(1.014)" d="M2 13.6 C6.6 13.4 9.9 10.4 9.9 6 C9.9 2.8 8.1 0.9 5.5 0.9 C3 0.9 1.0 2.7 1.0 5.2 C1.0 7.7 2.8 9.2 5.2 9.2 C7.2 9.2 8.8 8.2 9.6 6.8" fill="none" stroke="#000" stroke-width="1.87"/>
<line x1="851" y1="1192.5" x2="889" y2="1225.5" stroke="#000" stroke-width="1.6"/>
<path transform="translate(897 1216) scale(1.000)" d="M0.9 1.0 L8.1 1.0 L3.2 13.6" fill="none" stroke="#000" stroke-width="1.90"/>
<line x1="345.5" y1="1303.8" x2="410.4" y2="1278.4" stroke="#000" stroke-width="1.6"/>
<path transform="translate(332.7 1295) scale(1.048)" d="M5.25 7.0 C2.9 7.0 1.6 5.7 1.6 4.0 C1.6 2.1 3.1 0.9 5.25 0.9 C7.4 0.9 8.9 2.1 8.9 4.0 C8.9 5.7 7.6 7.0 5.25 7.0 C2.5 7.0 0.9 8.5 0.9 10.4 C0.9 12.4 2.7 13.6 5.25 13.6 C7.8 13.6 9.6 12.4 9.6 10.4 C9.6 8.5 8 7.0 5.25 7.0 Z" fill="none" stroke="#000" stroke-width="1.81"/>
<path d="M580.3 953.8 L238.8 1081.8 L238.8 1112.4 L524.4 1228.3 L866.2 1100.4 L866.2 1069.5 Z" fill="none" stroke="#000" stroke-width="1.9" />
<path d="M238.8 1081.8 L524.4 1198.2 L866.2 1069.5" fill="none" stroke="#000" stroke-width="1.9" />
<path d="M524.4 1198.2 L524.4 1228.3" fill="none" stroke="#000" stroke-width="3.4" />
<path d="M580.3 953.8 L580.3 983.5" fill="none" stroke="#000" stroke-width="2.8" />
<path d="M276 1097 L580.3 983.5" fill="none" stroke="#000" stroke-width="2.9" />
<path d="M580.3 983.5 L828.7 1084" fill="none" stroke="#000" stroke-width="2.4" />
<ellipse cx="409.5" cy="1024.6" rx="1.6" ry="2.5" fill="none" stroke="#000" stroke-width="1.4" transform="rotate(25 409.5 1024.6)"/>
<ellipse cx="260" cy="1080.8" rx="1.6" ry="2.5" fill="none" stroke="#000" stroke-width="1.4" transform="rotate(25 260 1080.8)"/>
<ellipse cx="258.6" cy="1097.2" rx="1.6" ry="2.5" fill="none" stroke="#000" stroke-width="1.4" transform="rotate(25 258.6 1097.2)"/>
<ellipse cx="380.8" cy="1147.4" rx="1.6" ry="2.5" fill="none" stroke="#000" stroke-width="1.4" transform="rotate(25 380.8 1147.4)"/>
<ellipse cx="502.7" cy="1197.3" rx="1.6" ry="2.5" fill="none" stroke="#000" stroke-width="1.4" transform="rotate(25 502.7 1197.3)"/>
<ellipse cx="558.8" cy="968.5" rx="1.6" ry="2.5" fill="none" stroke="#000" stroke-width="1.4" transform="rotate(25 558.8 968.5)"/>
<ellipse cx="601.1" cy="968.5" rx="1.6" ry="2.5" fill="none" stroke="#000" stroke-width="1.4" transform="rotate(25 601.1 968.5)"/>
<ellipse cx="723.6" cy="1018.4" rx="1.6" ry="2.5" fill="none" stroke="#000" stroke-width="1.4" transform="rotate(25 723.6 1018.4)"/>
<ellipse cx="845.2" cy="1068.4" rx="1.6" ry="2.5" fill="none" stroke="#000" stroke-width="1.4" transform="rotate(25 845.2 1068.4)"/>
<ellipse cx="844.5" cy="1085.2" rx="1.6" ry="2.5" fill="none" stroke="#000" stroke-width="1.4" transform="rotate(25 844.5 1085.2)"/>
<ellipse cx="773" cy="1111.6" rx="1.6" ry="2.5" fill="none" stroke="#000" stroke-width="1.4" transform="rotate(25 773 1111.6)"/>
<ellipse cx="720.5" cy="1141.9" rx="1.6" ry="2.5" fill="none" stroke="#000" stroke-width="1.4" transform="rotate(25 720.5 1141.9)"/>
<ellipse cx="651" cy="1168" rx="1.6" ry="2.5" fill="none" stroke="#000" stroke-width="1.4" transform="rotate(25 651 1168)"/>
<ellipse cx="617.7" cy="1170.2" rx="1.6" ry="2.5" fill="none" stroke="#000" stroke-width="1.4" transform="rotate(25 617.7 1170.2)"/>
<ellipse cx="546" cy="1197.2" rx="1.6" ry="2.5" fill="none" stroke="#000" stroke-width="1.4" transform="rotate(25 546 1197.2)"/>
<path d="M418.2 1047.3 L471.4 1028.2 L501.4 1040.5 L449.5 1060.4 Z" fill="none" stroke="#000" stroke-width="1.6" />
<path d="M344 1089.5 L347 1085.5 L359 1087.5 L356 1091.5 Z" fill="none" stroke="#000" stroke-width="1.2" />
<path d="M395 1082.3 L398 1078.3 L410 1080.3 L407 1084.3 Z" fill="none" stroke="#000" stroke-width="1.2" />
<path d="M514.3 1030 L517.3 1026 L529.3 1028 L526.3 1032 Z" fill="none" stroke="#000" stroke-width="1.2" />
<path d="M418.7 1142.3 L421.7 1138.3 L433.7 1140.3 L430.7 1144.3 Z" fill="none" stroke="#000" stroke-width="1.2" />
<path d="M406.3 1149.2 L409.3 1145.2 L421.3 1147.2 L418.3 1151.2 Z" fill="none" stroke="#000" stroke-width="1.2" />
<path d="M454.5 1169 L457.5 1165 L469.5 1167 L466.5 1171 Z" fill="none" stroke="#000" stroke-width="1.2" />
<path d="M635.5 1038.5 L638.5 1034.5 L650.5 1036.5 L647.5 1040.5 Z" fill="none" stroke="#000" stroke-width="1.2" />
<path d="M693.8 1066.7 L696.8 1062.7 L708.8 1064.7 L705.8 1068.7 Z" fill="none" stroke="#000" stroke-width="1.2" />
<ellipse cx="608.5" cy="1136" rx="2.3" ry="1.5" fill="#000" stroke="#000" stroke-width="0" />
<ellipse cx="642.5" cy="1132" rx="2.3" ry="1.5" fill="#000" stroke="#000" stroke-width="0" />
<ellipse cx="677.5" cy="1133.6" rx="2.3" ry="1.5" fill="#000" stroke="#000" stroke-width="0" />
<ellipse cx="595.7" cy="1149.8" rx="2.3" ry="1.5" fill="#000" stroke="#000" stroke-width="0" />
<ellipse cx="598" cy="1163.8" rx="2.3" ry="1.5" fill="#000" stroke="#000" stroke-width="0" />
<ellipse cx="489" cy="1052" rx="1.7" ry="1.1" fill="#000" stroke="#000" stroke-width="0" />
<ellipse cx="496" cy="1049.5" rx="1.7" ry="1.1" fill="#000" stroke="#000" stroke-width="0" />
<ellipse cx="719.5" cy="1123.3" rx="3" ry="1.2" fill="#000" stroke="#000" stroke-width="0" />
<path d="M824.8 1043 L835 1038.5 L842 1042 L832 1047 Z" fill="#000" stroke="#000" stroke-width="1.5" />
<path d="M548 1146.5 L558 1141.9 L565.2 1146 L555 1151.4 Z" fill="#000" stroke="#000" stroke-width="1.5" />
<path d="M553 995.5 L558 994 L560.5 997.5 L556 999 M551 1001.5 L558.5 999 L559 1001.5 L552.5 1004" fill="none" stroke="#000" stroke-width="1.6" />
<ellipse cx="548.5" cy="999.5" rx="2" ry="1.3" fill="#000" stroke="#000" stroke-width="0" />
<path d="M279 1098 L287 1095 L292.7 1098 L285 1101.8 Z M282 1096 L290 1100" fill="none" stroke="#000" stroke-width="1.2" />
<path d="M793.3 1471.5 C797 1470 800 1468 801.5 1465 L801.5 1497.5" fill="none" stroke="#8c8c8c" stroke-width="1.0" />
<path d="M822.6 1494.4 L824 1495.8 L822.6 1497.2 L821.2 1495.8 Z" fill="none" stroke="#8c8c8c" stroke-width="1.0" />
<path d="M845.5 1478 C839 1478 836.2 1475 836.2 1471.3 C836.2 1467.5 840 1465 845.5 1465 C851 1465 854.8 1467.5 854.8 1471.3 C854.8 1475 852 1478 845.5 1478 C838.5 1478 834 1482 834 1487.7 C834 1493.5 838.5 1497.5 845.5 1497.5 C852.5 1497.5 857 1493.5 857 1487.7 C857 1482 852.5 1478 845.5 1478 Z" fill="none" stroke="#8c8c8c" stroke-width="1.0" />
<path d="M865.4 1465.4 L886.9 1465.4 L871.3 1497.5" fill="none" stroke="#8c8c8c" stroke-width="1.0" />
<path d="M914.2 1465.4 L897.9 1465.4 L896.7 1479.2 C899 1477.5 902 1476.3 906 1476.3 C913.5 1476.3 917.7 1481 917.7 1487 C917.7 1493.5 913 1497.5 906 1497.5 C900.5 1497.5 896.8 1495 895.5 1491.6" fill="none" stroke="#8c8c8c" stroke-width="1.0" />
<path d="M929.5 1494.4 L930.9 1495.8 L929.5 1497.2 L928.1 1495.8 Z" fill="none" stroke="#8c8c8c" stroke-width="1.0" />
<path d="M941.4 1465.4 L962.6 1465.4 L947.3 1497.5" fill="none" stroke="#8c8c8c" stroke-width="1.0" />
<path d="M976.2 1471.5 C980 1470 983 1468 984.5 1465 L984.5 1497.5" fill="none" stroke="#8c8c8c" stroke-width="1.0" />
<path d="M1004 1472.7 C1004 1468 1008 1465 1013.5 1465 C1019.5 1465 1023 1468.5 1023 1473 C1023 1477 1020.5 1479.5 1016 1483.5 L1002.8 1497.3 L1024.1 1497.3" fill="none" stroke="#8c8c8c" stroke-width="1.0" />
<line x1="20" y1="1539" x2="1079" y2="1539" stroke="#222" stroke-width="2.2"/>
</svg>
</body></html>
